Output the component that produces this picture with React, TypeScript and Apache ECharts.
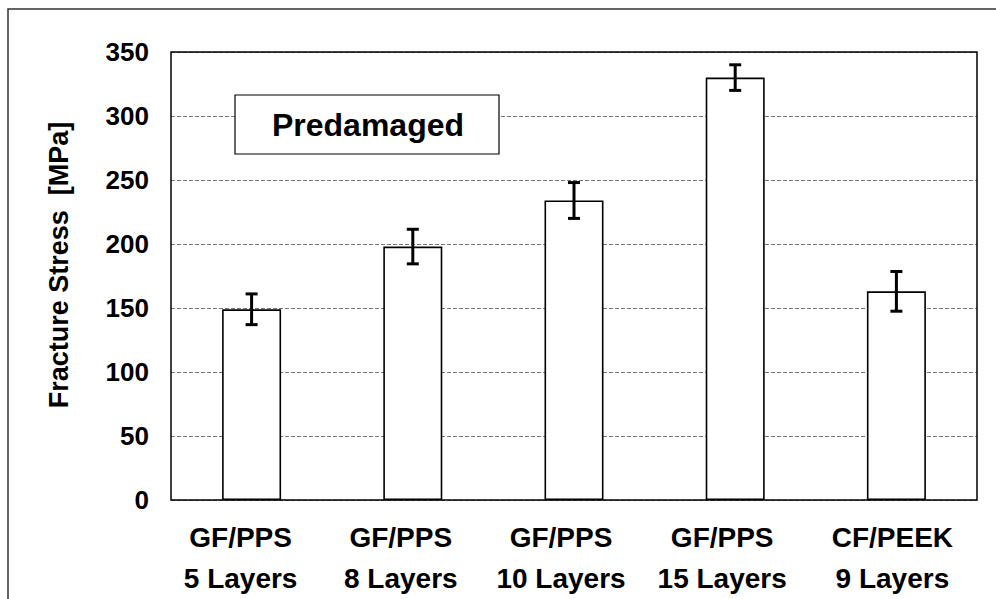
import React, { useEffect, useRef } from "react";
import * as echarts from "echarts";

const categories = [
  "GF/PPS\n5 Layers",
  "GF/PPS\n8 Layers",
  "GF/PPS\n10 Layers",
  "GF/PPS\n15 Layers",
  "CF/PEEK\n9 Layers",
];
const values = [149, 198, 234, 330, 163];
const errors = [12, 13.5, 14, 10, 15.5];
const yTicks = { min: 0, max: 350, interval: 50 };
const yTitle = "Fracture Stress  [MPa]";
const boxLabel = "Predamaged";

// label left shift (styling only), in px
const labelShift = [11, 12, 13, 13, 4];

const FONT = "Arial, 'Liberation Sans', Helvetica, sans-serif";

export default function App() {
  const ref = useRef<HTMLDivElement>(null);
  useEffect(() => {
    if (!ref.current) return;
    const chart = echarts.init(ref.current, null, { renderer: "svg" });
    const errData = categories.map((_, i) => [i, values[i] - errors[i], values[i] + errors[i]]);
    const rich: any = {};
    labelShift.forEach((s, i) => {
      rich["s" + i] = {
        color: "#000",
        fontFamily: FONT,
        fontWeight: "bold",
        fontSize: 28,
        lineHeight: 41,
        padding: [0, s * 2, 0, 0],
      };
    });
    chart.setOption({
      animation: false,
      backgroundColor: "#fff",
      grid: {
        left: 171,
        top: 52,
        right: 19,
        bottom: 96,
        show: true,
        borderColor: "#000",
        borderWidth: 1.5,
        backgroundColor: "transparent",
        z: 5,
      },
      xAxis: {
        type: "category",
        data: categories,
        axisLine: { show: false },
        axisTick: { show: false },
        axisLabel: {
          interval: 0,
          hideOverlap: false,
          color: "#000",
          fontFamily: FONT,
          fontWeight: "bold",
          fontSize: 28,
          lineHeight: 41,
          margin: 17,
          formatter: (v: string, idx: number) =>
            v
              .split("\n")
              .map((line) => `{s${idx}|${line}}`)
              .join("\n"),
          rich,
        },
      },
      yAxis: {
        type: "value",
        min: yTicks.min,
        max: yTicks.max,
        interval: yTicks.interval,
        axisLine: { show: false },
        axisTick: { show: false },
        axisLabel: {
          color: "#000",
          fontFamily: FONT,
          fontWeight: "bold",
          fontSize: 26,
          margin: 22,
          padding: [6, 0, 0, 0],
        },
        splitLine: {
          show: true,
          lineStyle: { color: "#777", type: [4, 2], width: 1 },
        },
      },
      series: [
        {
          type: "bar",
          data: values,
          barWidth: 59,
          itemStyle: { color: "#fff", borderColor: "#000", borderWidth: 1.6 },
          z: 2,
        },
        {
          type: "custom",
          data: errData,
          encode: { x: 0, y: [1, 2] },
          z: 10,
          renderItem: (params: any, api: any) => {
            const x = api.value(0);
            const lo = api.coord([x, api.value(1)]);
            const hi = api.coord([x, api.value(2)]);
            const w = 6;
            const st = { stroke: "#000", lineWidth: 3 };
            return {
              type: "group",
              children: [
                { type: "line", shape: { x1: lo[0], y1: lo[1], x2: hi[0], y2: hi[1] }, style: st },
                { type: "line", shape: { x1: lo[0] - w, y1: lo[1], x2: lo[0] + w, y2: lo[1] }, style: st },
                { type: "line", shape: { x1: hi[0] - w, y1: hi[1], x2: hi[0] + w, y2: hi[1] }, style: st },
              ],
            };
          },
        },
      ],
      graphic: [
        {
          type: "rect",
          shape: { x: 8, y: 9, width: 1200, height: 900 },
          style: { fill: "none", stroke: "#333", lineWidth: 1.5 },
          silent: true,
          z: 100,
        },
        {
          type: "rect",
          shape: { x: 235, y: 95, width: 264, height: 59 },
          style: { fill: "#fff", stroke: "#000", lineWidth: 1.2 },
          z: 50,
        },
        {
          type: "text",
          x: 368,
          y: 125,
          style: {
            text: boxLabel,
            fill: "#000",
            font: `bold 32px ${FONT}`,
            align: "center",
            verticalAlign: "middle",
          },
          z: 51,
        },
        {
          type: "text",
          x: 59,
          y: 265,
          rotation: Math.PI / 2,
          style: {
            text: yTitle,
            fill: "#000",
            font: `bold 27px ${FONT}`,
            align: "center",
            verticalAlign: "middle",
          },
          z: 51,
        },
      ],
    });
    return () => chart.dispose();
  }, []);
  return (
    <div
      ref={ref}
      style={{ position: "fixed", left: 0, top: 0, width: 996, height: 599 }}
    />
  );
}
